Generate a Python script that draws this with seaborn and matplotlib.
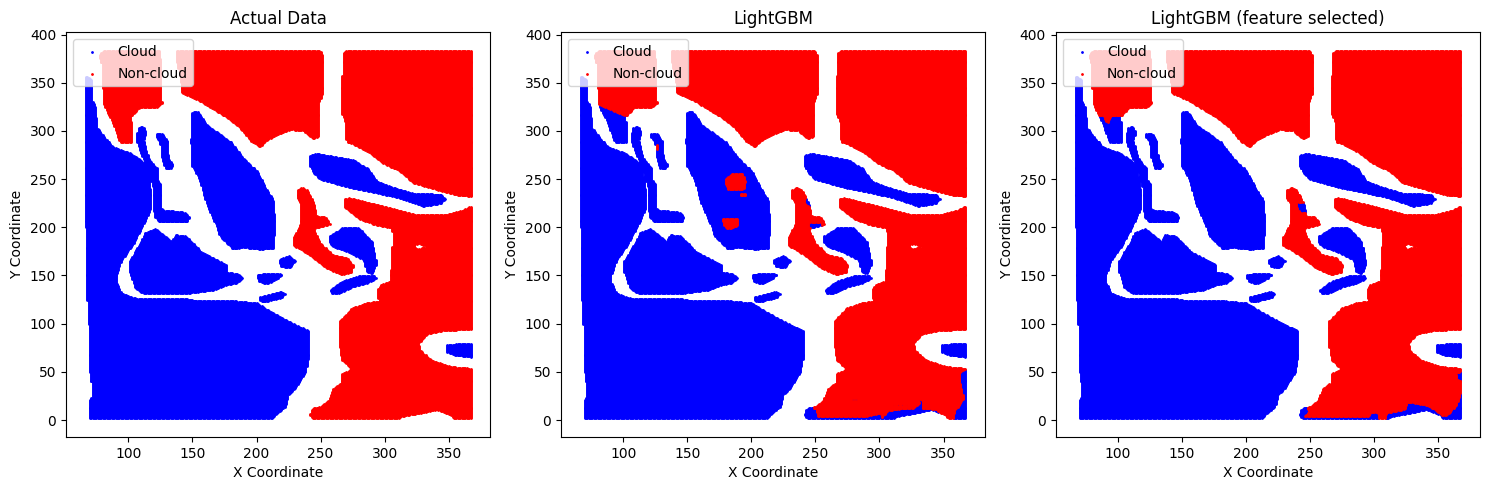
import numpy as np
import pandas as pd
import matplotlib
matplotlib.use('Agg')
import matplotlib.pyplot as plt
from matplotlib.path import Path
import seaborn as sns

# ===================================
# region outlines (x, y)
# ===================================
cloud_left = [(64.4,353),(66.5,357),(70.5,353),(70.5,331),(73,327),(75,303),(82.3,291),(87.6,283),(100.8,277),
              (111.3,268.4),(114.5,263),(116.6,244),(117,220),(111.3,202.6),(102,180),(94.2,166),(90.2,152),
              (90.2,142),(94.2,131.6),(106,126.4),(145.6,126.4),(154.8,123.6),(185,123),(201,121),(211.6,112.6),
              (227.4,102),(242,91.8),(242,67.5),(239.3,50),(231.4,33),(226,26),(223.5,14),(213,1.7),(68.6,1.7),
              (68.6,21),(70.5,24),(70.5,36),(69,50),(67.8,112.6),(66.5,133),(66,202.6),(65,289)]
cloud_strip_a = [(107.4,303),(111.3,304.8),(113.4,297.8),(111.3,291),(115.3,271.9),(121.9,261.5),(122.4,249.4),
                 (125.3,244),(125.8,218.2),(144.3,215.8),(147.5,211.3),(145.6,205.4),(124.5,206),(119.8,211.3),
                 (119.2,240.7),(114.5,261.5),(108.7,278.8),(105.5,292.7)]
cloud_strip_b = [(121.9,297.8),(125.8,297.8),(129.8,291),(131.1,271.9),(134.5,265),(132.4,260.4),(128.5,262),
                 (125.8,271.9),(124.5,289),(120.8,294.4)]
cloud_diag = [(149.6,319.7),(154,321),(161.4,306.5),(179.9,289),(190.4,271.9),(201,258),(214.2,226.9),(215.5,202.6),
              (214.2,178.4),(203.6,176.6),(190.4,180),(182.5,177.7),(172,190.5),(168.8,202.6),(161.4,223.4),
              (156.2,247.6),(149.6,265),(149,289)]
cloud_mid = [(120.6,198.4),(127.2,192.2),(133.7,185.3),(136.4,192.2),(144.3,191.5),(153.5,180),(156.2,174.9),
             (177.3,161),(177.3,154),(185.2,152.4),(189.9,147),(185.2,142),(177.3,140),(166.7,135),(145.6,131.6),
             (111.3,131.6),(104.7,136.8),(100.2,154),(100.2,164.5),(108.7,183.6),(112.6,194)]
cloud_small_a = [(201,150.6),(206.3,152.4),(219.4,152.4),(220.8,150.6),(218,147),(208.9,141),(202.3,143.7)]
cloud_small_b = [(203.6,128),(219.4,133.3),(223.5,131.6),(220.8,127.4),(211.6,124.7),(206.3,122.3),(202.8,124.7)]
cloud_oval = [(218.2,166.2),(226.1,170.4),(231.4,165.2),(227.4,158.6),(219.5,159.3)]
cloud_band = [(243.2,274.7),(248.5,276.4),(277.5,270.1),(288,261.5),(296,247.6),(309.2,241.4),(325,235.5),(346,234.8),
              (350,228.6),(346,224.4),(332.9,221.7),(317,228.6),(298.6,235.5),(277.5,240.7),(251.2,249.4),
              (245.9,256.3),(243.2,263.2)]
cloud_hook = [(257.7,190.5),(268.3,199),(281.5,199),(292,185.3),(295.5,162.8),(292,152.4),(288,154),(285.4,166),
              (274.9,173),(261.7,180),(257.7,185.3)]
cloud_thin = [(259,135),(268.3,143.7),(281.5,149),(293.4,150),(295.5,146.5),(288,142),(277.5,138.5),(265.7,131.6),
              (260.4,131.6)]
cloud_right = [(350.6,78.6),(370.3,79.7),(370.3,64.8),(359.3,66.8),(351.4,71)]

clear_top_left = [(76.5,379.2),(79.7,383),(124.5,383),(125.3,358.5),(125.8,329),(121.9,324.9),(108.7,324.9),
                  (101.3,315.2),(102.1,289),(92.9,288.5),(87.6,306.5),(79.7,329),(78.4,368.8)]
clear_top_mid = [(137.2,383),(251.2,383),(252.5,379),(252.5,337.7),(249.8,329),(249.3,293.4),(244.6,292.7),(238,300.3),
                 (227.4,301.3),(219.5,297.8),(208.9,291),(203.6,283),(198.3,287.5),(187.8,303),(172,318.6),
                 (156.2,330.8),(141.6,339.4),(140.9,351.5),(137.2,375.8)]
clear_top_right = [(270.9,383),(370.5,383),(370.5,231),(354,235.5),(325,246),(311.8,259.8),(298.6,268.4),(290.7,277),
                   (271.7,289.2),(270.9,308),(268.3,318.6),(268.3,344.6),(269,381)]
clear_low_right = [(269.6,228.6),(273.6,230.3),(301.3,221.7),(325,214),(348.7,213),(364.5,218.2),(370.5,222.4),(370.5,93.5),
                   (348.7,92.5),(335.5,89),(329,79.7),(330.3,72.7),(338.2,62.3),(354,55.4),(370.5,53.7),(370.5,1.7),
                   (356.6,1.7),(354,5.2),(343.5,10.4),(330.3,6.9),(315.8,3.5),(313.1,1.7),(244.6,1.7),(242.7,5),
                   (244.6,11.4),(252.5,15.6),(257.7,20.8),(261.7,32.9),(267.8,38.1),(268.3,48.5),(275.7,52.7),
                   (268.3,62.3),(265.7,81.4),(265.7,102.2),(276.2,116),(288,121.2),(297.3,123),(296,135),(298.6,140),
                   (306.5,143.7),(308.4,188.7),(307.9,199),(293.3,202.6),(281.5,209.6),(269.6,221.7)]
clear_curve = [(232.7,239),(236.7,241.7),(240.6,239),(245.9,225),(248.5,212),(255,211.3),(259,202.6),(245.9,198.4),
               (251.2,183.6),(260.4,171.4),(272.2,168),(277,161),(276.2,154),(268.3,151.4),(256.4,157.6),(245.9,168),
               (230,181.8),(229.5,188.7),(235.3,202.6),(235.9,223.6),(232.7,230.3)]
hole_small = [(325.5,181.8),(329,183.6),(335.5,180),(327.6,176.6)]

# places where the model disagrees with the actual label
lgbm_to_cloud = [
    [(76,330),(99.5,317),(106,316),(106,280),(88,280),(76,310)],
    [(243,230),(250,226),(248,220),(243,225)],
    [(245.9,204),(256,204),(256,199),(245.9,199)],
    [(240,0),(240,9),(248.5,14.5),(251.9,10.4),(252.9,3.2),(289.3,3.2),(302.5,7),(305,0)],
    [(302.5,0),(307.8,8.7),(314.4,10.4),(328.9,13),(333.6,18),(332.8,23),(335.5,20.8),(335.5,12),(347.3,10.4),(355.3,0)],
    [(359.2,0),(361.8,10.4),(368.4,22.5),(367.1,31.2),(365.3,39.8),(365.8,50.2),(372,54),(373,0)],
    [(313,16.6),(323.6,16.6),(323.6,15.2),(313,15.2)],
    [(280,22),(284,22),(284,20),(280,20)],
]
lgbm_to_clear = [
    [(180.5,251),(185.2,255.6),(193.9,255.6),(195.8,247.7),(194.4,239),(182.6,239.7),(180,245.9)],
    [(192.6,235.5),(195.8,235.5),(195.8,232.8),(192.6,232.8)],
    [(177.8,209.6),(189.7,209.6),(189.7,201.6),(183.9,198.1),(180,199.2)],
    [(123.2,285.7),(125.9,285.7),(125.9,280.6),(123.2,280.6)],
]
selected_to_cloud = [
    [(76,321),(88,315),(91,308),(94,315),(104,315),(106,280),(88,280),(76,312)],
    [(240,225),(246,225),(248,215),(243,215)],
    [(240,0),(240,12),(248,14),(250,8),(246,3),(297,3),(299,7),(305,7),(306,0)],
    [(310,0),(311.3,7),(325.8,10.4),(328.4,19),(333.7,18),(344.2,15.6),(356,4.2),(360,5.2),(366.7,15.6),(372,36),(373,0)],
    [(366.7,48.5),(372,52),(372,41.5),(367.4,42.2)],
]
selected_to_clear = []

cloud_regions = [cloud_left, cloud_strip_a, cloud_strip_b, cloud_diag, cloud_mid, cloud_small_a, cloud_small_b,
                 cloud_oval, cloud_band, cloud_hook, cloud_thin, cloud_right]
clear_regions = [clear_top_left, clear_top_mid, clear_top_right, clear_low_right, clear_curve]

titles = ['Actual Data', 'LightGBM', 'LightGBM (feature selected)']
to_cloud = [[], lgbm_to_cloud, selected_to_cloud]
to_clear = [[], lgbm_to_clear, selected_to_clear]


# outlines were read with a slightly off x scale, tick spacing is 64 px per 50
def calibrate(poly):
    return [(x * 0.9875 + 1.8, y) for x, y in poly]


def inside(points, polygons):
    mask = np.zeros(len(points), dtype=bool)
    for poly in polygons:
        mask |= Path(calibrate(poly)).contains_points(points)
    return mask


# scan grid of the image
xx, yy = np.meshgrid(np.arange(67, 369, 1.0), np.arange(2, 384, 1.0))
pts = np.column_stack([xx.ravel(), yy.ravel()])
is_cloud = inside(pts, cloud_regions)
is_clear = inside(pts, clear_regions) & ~inside(pts, [hole_small])
keep = is_cloud | is_clear
df = pd.DataFrame({'x': pts[keep, 0], 'y': pts[keep, 1], 'cloud': is_cloud[keep]})

fig, axes = plt.subplots(1, 3, figsize=(14.89, 4.9))
for ax, title, flip_c, flip_r in zip(axes, titles, to_cloud, to_clear):
    d = df.copy()
    p = d[['x', 'y']].values
    d.loc[inside(p, flip_c), 'cloud'] = True
    d.loc[inside(p, flip_r), 'cloud'] = False
    sns.scatterplot(data=d[d['cloud']], x='x', y='y', color='blue', s=1, edgecolor='blue', linewidth=1,
                    label='Cloud', ax=ax)
    sns.scatterplot(data=d[~d['cloud']], x='x', y='y', color='red', s=1, edgecolor='red', linewidth=1,
                    label='Non-cloud', ax=ax)
    ax.set_title(title)
    ax.set_xlabel('X Coordinate')
    ax.set_ylabel('Y Coordinate')
    ax.set_xlim(51.3, 382.5)
    ax.set_ylim(-17.6, 402.1)
    ax.legend(loc='upper left', labelspacing=0.55)

fig.subplots_adjust(left=66/1489, right=1480/1489, bottom=1-437/490, top=1-32.5/490, wspace=0.166)
fig.savefig('out.png', dpi=100)
